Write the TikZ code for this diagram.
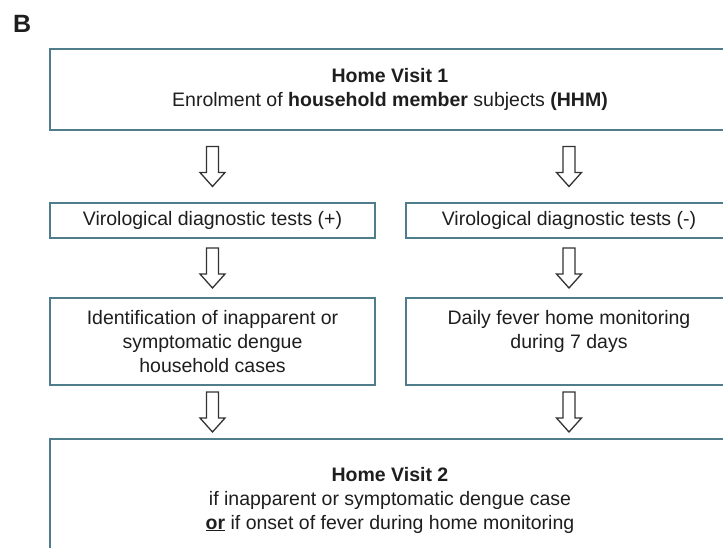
\documentclass[tikz,border=0pt]{standalone}
\usepackage{fontspec}
\setmainfont{Liberation Sans}
\usetikzlibrary{calc}
\definecolor{boxc}{HTML}{4F7D8C}
\definecolor{txt}{HTML}{1E1E1E}
\definecolor{arr}{HTML}{333333}
\begin{document}
\begin{tikzpicture}[x=1pt,y=-1pt,
  font=\fontsize{19.5}{24}\selectfont,
  box/.style={draw=boxc, line width=1.8pt, align=center, text=txt, inner sep=0pt},
  hollowarrow/.pic={\draw[draw=arr, fill=white, line width=1.3pt, line join=miter]
     (-6,-20) -- (-6,6) -- (-12.5,6) -- (0,20) -- (12.5,6) -- (6,6) -- (6,-20) -- cycle;}]
\useasboundingbox (0,0) rectangle (723,548);
\clip (0,0) rectangle (723,548);
\fill[white] (0,0) rectangle (723,548);

\node[anchor=base west, font=\fontsize{25}{30}\selectfont\bfseries, text=txt, inner sep=0pt] (lab) at (13,33) {B};

\node[box, minimum width=680pt, minimum height=81pt] (hv1) at (390,89.5)
  {\textbf{Home Visit 1}\\Enrolment of \textbf{household member} subjects \textbf{(HHM)}};

\node[box, minimum width=325pt, minimum height=35pt] (vpos) at (212.5,220.5)
  {Virological diagnostic tests (+)};
\node[box, minimum width=326pt, minimum height=35pt] (vneg) at (569,220.5)
  {Virological diagnostic tests (-)};

\node[box, minimum width=325pt, minimum height=87pt] (idn) at (212.5,341.5)
  {Identification of inapparent or\\symptomatic dengue\\household cases};
\node[box, minimum width=326pt, minimum height=87pt] (dfm) at (569,341.5)
  {Daily fever home monitoring\\during 7 days\\\phantom{household cases}};

\node[box, minimum width=680pt, minimum height=122pt] (hv2) at (390,500)
  {\textbf{Home Visit 2}\\if inapparent or symptomatic dengue case\\\textbf{\underline{or}} if onset of fever during home monitoring};

\pic at ($(hv1.south -| vpos.north)!0.5!(vpos.north)$) {hollowarrow};
\pic at ($(hv1.south -| vneg.north)!0.5!(vneg.north)$) {hollowarrow};
\pic at ($(vpos.south)!0.5!(idn.north)$) {hollowarrow};
\pic at ($(vneg.south)!0.5!(dfm.north)$) {hollowarrow};
\pic at ($(idn.south)!0.5!(hv2.north -| idn.south)$) {hollowarrow};
\pic at ($(dfm.south)!0.5!(hv2.north -| dfm.south)$) {hollowarrow};
\end{tikzpicture}
\end{document}
